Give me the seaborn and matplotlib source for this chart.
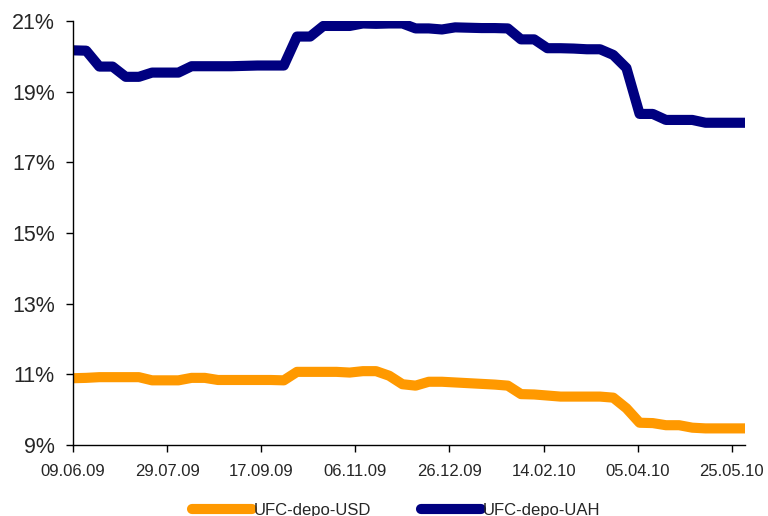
import pandas as pd
import numpy as np
import matplotlib
matplotlib.use("Agg")
import matplotlib.pyplot as plt
import matplotlib.dates as mdates
from matplotlib.ticker import FuncFormatter
import seaborn as sns

# ----------------------------------------------------------
# Data (weekly)
# ----------------------------------------------------------
dates = pd.date_range("2009-06-09", periods=52, freq="7D")

uah = [20.17, 20.16, 19.71, 19.71, 19.42, 19.42, 19.54, 19.54, 19.54, 19.72,
       19.72, 19.72, 19.72, 19.73, 19.74, 19.74, 19.74, 20.56, 20.56, 20.86,
       20.86, 20.86, 20.93, 20.92, 20.93, 20.93, 20.79, 20.79, 20.76, 20.82,
       20.81, 20.80, 20.80, 20.79, 20.48, 20.48, 20.23, 20.23, 20.22, 20.20,
       20.20, 20.04, 19.67, 18.37, 18.37, 18.20, 18.20, 18.20, 18.12, 18.12,
       18.12, 18.12]

usd = [10.89, 10.90, 10.92, 10.92, 10.92, 10.92, 10.83, 10.83, 10.83, 10.90,
       10.90, 10.84, 10.84, 10.84, 10.84, 10.84, 10.83, 11.07, 11.07, 11.07,
       11.07, 11.05, 11.09, 11.09, 10.96, 10.72, 10.68, 10.79, 10.79, 10.77,
       10.75, 10.73, 10.71, 10.68, 10.44, 10.43, 10.40, 10.37, 10.37, 10.37,
       10.37, 10.34, 10.04, 9.63, 9.62, 9.56, 9.56, 9.49, 9.47, 9.47,
       9.47, 9.47]

tick_dates = pd.date_range("2009-06-09", "2010-05-25", freq="50D")

df = pd.DataFrame({"Date": dates, "UFC-depo-USD": usd, "UFC-depo-UAH": uah})
long_df = df.melt(id_vars="Date", var_name="Series", value_name="Rate")

# ----------------------------------------------------------
# Plot
# ----------------------------------------------------------
sns.set_style("white")
plt.rcParams["font.family"] = ["Liberation Sans", "DejaVu Sans"]

fig = plt.figure(figsize=(7.68, 5.16), dpi=100)
ax = fig.add_axes([73 / 768, 1 - 445 / 516, (745 - 73) / 768, (445 - 21) / 516])

sns.lineplot(data=long_df, x="Date", y="Rate", hue="Series",
             palette={"UFC-depo-USD": "#FF9900", "UFC-depo-UAH": "#000080"},
             linewidth=7.3, ax=ax, legend=False)

ax.set_xlim(dates[0], dates[-1])
ax.set_ylim(9, 21)
ax.set_yticks(range(9, 22, 2))
ax.yaxis.set_major_formatter(FuncFormatter(lambda v, p: f"{v:.0f}%"))
ax.set_xticks(tick_dates)
ax.xaxis.set_major_formatter(mdates.DateFormatter("%d.%m.%y"))
ax.set_xlabel("")
ax.set_ylabel("")

sns.despine(ax=ax)
for s in ["left", "bottom"]:
    ax.spines[s].set_color("black")
    ax.spines[s].set_linewidth(1)

ax.tick_params(axis="y", direction="out", length=5, width=1, color="black",
               labelsize=15.5, pad=8, left=True)
ax.tick_params(axis="x", direction="out", length=5, width=1, color="black",
               labelsize=12, pad=9, bottom=True)

# Legend below the chart
handles = [plt.Line2D([], [], color="#FF9900", linewidth=7.3),
           plt.Line2D([], [], color="#000080", linewidth=7.3)]
fig.legend(handles, ["UFC-depo-USD", "UFC-depo-UAH"], ncol=2,
           loc="center", bbox_to_anchor=(396 / 768, 1 - 510 / 516),
           frameon=False, fontsize=12, handlelength=3.6, handletextpad=0.1,
           columnspacing=3)

fig.savefig("out.png", dpi=100)
